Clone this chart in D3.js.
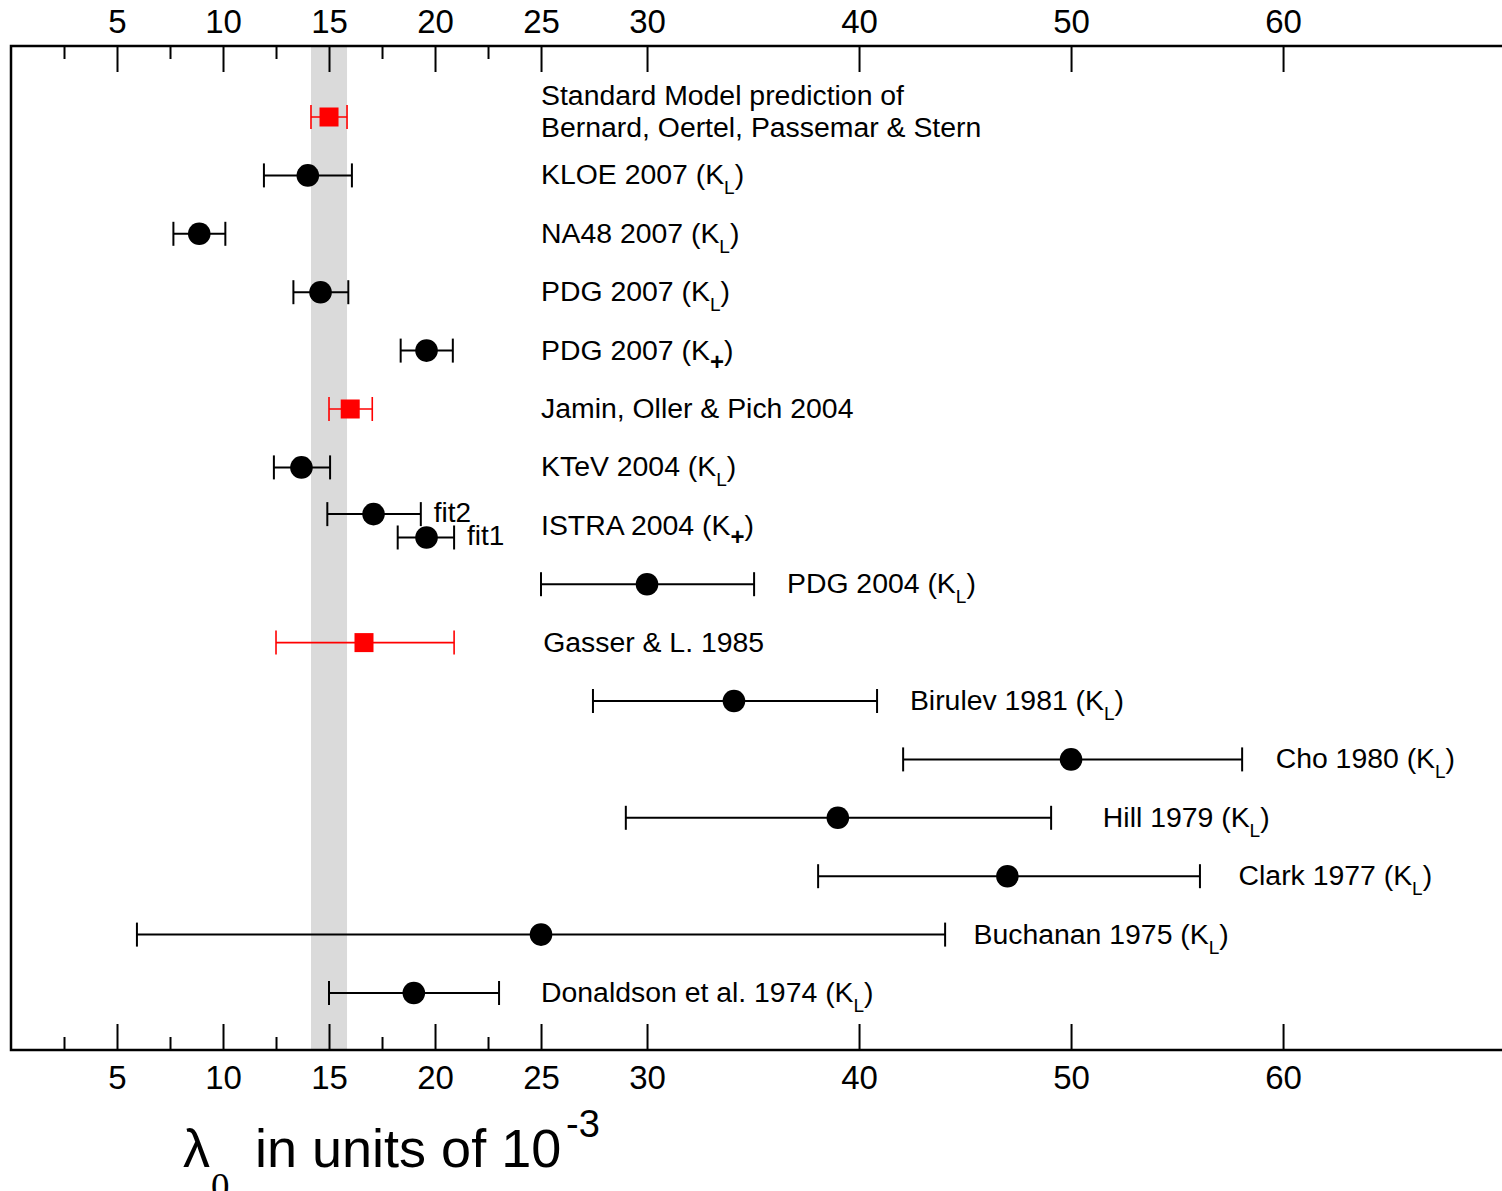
<!DOCTYPE html>
<html>
<head>
<meta charset="utf-8">
<script src="https://cdn.jsdelivr.net/npm/d3@7"></script>
<style>
  body { margin: 0; background: #fff; }
  svg text { font-family: "Liberation Sans", Arial, Helvetica, sans-serif; fill: #000; }
</style>
</head>
<body>
<svg width="1502" height="1191"></svg>
<script>
// row labels (one per row), kaon subscript for each row, and where the label starts (in lambda units)
var labels = ["Standard Model prediction of", "KLOE 2007", "NA48 2007", "PDG 2007", "PDG 2007",
  "Jamin, Oller & Pich 2004", "KTeV 2004", "ISTRA 2004", "PDG 2004", "Gasser & L. 1985",
  "Birulev 1981", "Cho 1980", "Hill 1979", "Clark 1977", "Buchanan 1975", "Donaldson et al. 1974"];
var kaon = ["", "L", "L", "L", "+", "", "L", "+", "L", "", "L", "L", "L", "L", "L", "L"];
var labelAt = [25, 25, 25, 25, 25, 25, 25, 25, 36.6, 25.1, 42.4, 59.65, 51.5, 57.9, 45.4, 25];
var smSecondLine = "Bernard, Oertel, Passemar & Stern";

// measurements: row, central value, error bar ends, theory (red) or experiment
var pointRow = [0, 1, 2, 3, 4, 5, 6, 6.8, 7.2, 8, 9, 10, 11, 12, 13, 14, 15];
var central  = [15.0, 14.0, 8.88, 14.6, 19.6, 16.0, 13.7, 17.1, 19.6, 30.0, 16.65, 34.1, 50.0, 39.0, 47.0, 25.0, 19.0];
var errLow   = [14.15, 11.93, 7.66, 13.32, 18.38, 15.0, 12.4, 14.92, 18.24, 25.0, 12.5, 27.45, 42.08, 29.0, 38.07, 5.94, 15.0];
var errHigh  = [15.85, 16.08, 10.11, 15.91, 20.84, 17.04, 15.05, 19.33, 20.9, 35.05, 20.9, 40.85, 58.07, 49.06, 56.08, 44.06, 23.02];
var theory   = [true, false, false, false, false, true, false, false, false, false, true, false, false, false, false, false, false];
var fitTag   = ["", "", "", "", "", "", "", "fit2", "fit1", "", "", "", "", "", "", "", ""];

// standard model band
var smBand = [14.15, 15.85];

// axis ticks
var majorTicks = [5, 10, 15, 20, 25, 30, 40, 50, 60];
var minorTicks = [2.5, 7.5, 12.5, 17.5, 22.5];

var svg = d3.select('svg');
var yTop = 46, yBottom = 1050, xLeft = 11, xRight = 1502;

var x = d3.scaleLinear().domain([0, 70.28]).range([xLeft, 1501]);
var y = d3.scaleLinear().domain([0, 15]).range([117, 993]);

// grey band for the SM prediction
svg.append('rect')
  .attr('x', x(smBand[0]))
  .attr('y', yTop)
  .attr('width', x(smBand[1]) - x(smBand[0]))
  .attr('height', yBottom - yTop)
  .attr('fill', '#dadada');

// axes, ticks pointing into the plot
var topAxis = svg.append('g').attr('transform', 'translate(0,' + yTop + ')')
  .call(d3.axisTop(x).tickValues(majorTicks).tickSizeInner(-26).tickSizeOuter(0).tickPadding(13));
var topMinor = svg.append('g').attr('transform', 'translate(0,' + yTop + ')')
  .call(d3.axisTop(x).tickValues(minorTicks).tickSizeInner(-13).tickSizeOuter(0).tickFormat(''));
var botAxis = svg.append('g').attr('transform', 'translate(0,' + yBottom + ')')
  .call(d3.axisBottom(x).tickValues(majorTicks).tickSizeInner(-26).tickSizeOuter(0).tickPadding(16));
var botMinor = svg.append('g').attr('transform', 'translate(0,' + yBottom + ')')
  .call(d3.axisBottom(x).tickValues(minorTicks).tickSizeInner(-13).tickSizeOuter(0).tickFormat(''));

[topAxis, topMinor, botAxis, botMinor].forEach(function(g){
  g.select('.domain').remove();
  g.selectAll('line').attr('stroke', '#000').attr('stroke-width', 2);
  g.selectAll('text')
    .style('font-family', '"Liberation Sans", Arial, sans-serif')
    .style('font-size', '33px')
    .attr('fill', '#000');
});

// frame (left, top, bottom)
svg.append('path')
  .attr('d', 'M' + xRight + ',' + yTop + 'H' + xLeft + 'V' + yBottom + 'H' + xRight)
  .attr('fill', 'none')
  .attr('stroke', '#000')
  .attr('stroke-width', 2.5);

// error bars
var pts = d3.range(central.length);
var bars = svg.selectAll('.bar').data(pts).enter().append('g').attr('class', 'bar');

bars.append('line')
  .attr('x1', function(i){ return x(errLow[i]); })
  .attr('x2', function(i){ return x(errHigh[i]); })
  .attr('y1', function(i){ return y(pointRow[i]); })
  .attr('y2', function(i){ return y(pointRow[i]); })
  .attr('stroke', function(i){ return theory[i] ? '#ff0000' : '#000'; })
  .attr('stroke-width', function(i){ return theory[i] ? 1.6 : 2; });

bars.selectAll('.cap')
  .data(function(i){ return [[i, errLow[i]], [i, errHigh[i]]]; })
  .enter().append('line')
  .attr('class', 'cap')
  .attr('x1', function(d){ return x(d[1]); })
  .attr('x2', function(d){ return x(d[1]); })
  .attr('y1', function(d){ return y(pointRow[d[0]]) - 12; })
  .attr('y2', function(d){ return y(pointRow[d[0]]) + 12; })
  .attr('stroke', function(d){ return theory[d[0]] ? '#ff0000' : '#000'; })
  .attr('stroke-width', function(d){ return theory[d[0]] ? 1.6 : 2; });

// markers: black dots for experiments, red squares for theory
bars.filter(function(i){ return !theory[i]; })
  .append('circle')
  .attr('cx', function(i){ return x(central[i]); })
  .attr('cy', function(i){ return y(pointRow[i]); })
  .attr('r', 11.3)
  .attr('fill', '#000');

bars.filter(function(i){ return theory[i]; })
  .append('rect')
  .attr('x', function(i){ return x(central[i]) - 9.5; })
  .attr('y', function(i){ return y(pointRow[i]) - 9.5; })
  .attr('width', 19)
  .attr('height', 19)
  .attr('fill', '#ff0000');

// fit1 / fit2 tags next to the ISTRA points
bars.filter(function(i){ return fitTag[i] != ''; })
  .append('text')
  .attr('x', function(i){ return x(errHigh[i]) + 13; })
  .attr('y', function(i){ return y(pointRow[i]) + 8; })
  .style('font-size', '28px')
  .text(function(i){ return fitTag[i]; });

// row labels
var rows = d3.range(labels.length);
var lab = svg.selectAll('.label').data(rows).enter().append('text')
  .attr('class', 'label')
  .attr('x', function(i){ return x(labelAt[i]); })
  .attr('y', function(i){ return i == 0 ? y(i) - 12 : y(i) + 9; })
  .style('font-size', '28.4px');

lab.append('tspan').text(function(i){ return labels[i] + (kaon[i] ? ' (K' : ''); });
lab.filter(function(i){ return kaon[i] != ''; }).each(function(i){
  var t = d3.select(this);
  t.append('tspan')
    .attr('dy', 10)
    .style('font-size', kaon[i] == '+' ? '24px' : '19px')
    .style('font-weight', kaon[i] == '+' ? 'bold' : 'normal')
    .text(kaon[i]);
  t.append('tspan').attr('dy', -10).text(')');
});

svg.append('text')
  .attr('x', x(labelAt[0]))
  .attr('y', y(0) + 20)
  .style('font-size', '28.4px')
  .text(smSecondLine);

// x axis title
var title = svg.append('text').attr('y', 1167).style('font-size', '54px');
title.append('tspan').attr('x', 183).text('λ');
title.append('tspan').attr('x', 211).attr('y', 1199)
  .style('font-family', '"Liberation Serif", "Times New Roman", serif')
  .style('font-size', '37px').text('0');
title.append('tspan').attr('x', 255).attr('y', 1167).text('in units of 10');
title.append('tspan').attr('x', 566).attr('y', 1137).style('font-size', '38px').text('-3');
</script>
</body>
</html>
